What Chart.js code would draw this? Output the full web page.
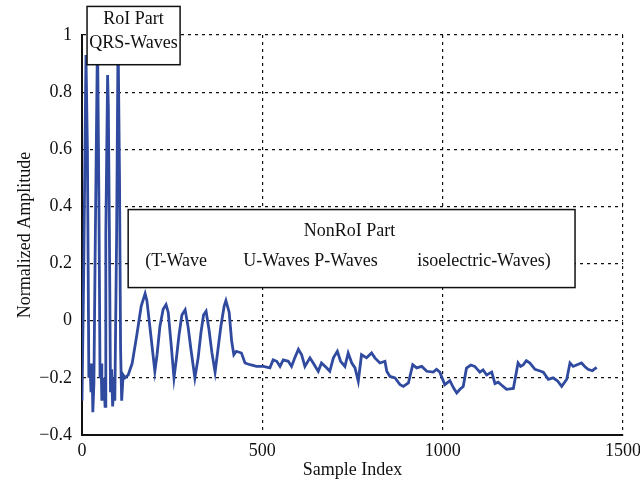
<!DOCTYPE html>
<html>
<head>
<meta charset="utf-8">
<script src="https://cdn.jsdelivr.net/npm/chart.js@4/dist/chart.umd.min.js"></script>
<style>
  html,body{margin:0;padding:0;background:#fff;}
  #wrap{width:640px;height:486px;position:relative;}
</style>
</head>
<body>
<div id="wrap"><canvas id="ecg" width="640" height="486"></canvas></div>
<script>
/* Normalized ECG amplitude vs sample index */

const sampleIdx = [
  0, 5, 11, 15, 19, 22, 25, 28, 30, 33, 37, 43, 47, 50, 53, 55, 60, 64, 66, 71, 73, 76, 79, 82, 85, 89, 91, 96, 100, 104, 107, 110, 114, 119,
  128, 139, 152, 164, 175, 180, 189, 197, 202, 208, 216, 225, 233, 239, 247, 255, 261, 269, 277, 286, 294, 302, 313, 322, 330, 337, 344, 352, 360, 369, 377, 385, 394, 399, 408,
  415, 421, 428, 442, 452, 466, 484, 503, 521, 530, 540, 549, 558, 572, 581, 590, 600, 609, 618, 632, 641, 655, 664, 678, 687, 697, 708, 717, 729, 738, 748, 757, 766, 775,
  789, 803, 812, 826, 840, 845, 854, 868, 882, 891, 905, 917, 928, 942, 956, 974, 983, 992, 1006, 1020, 1030, 1039, 1048, 1057, 1066, 1078, 1089, 1103, 1112, 1122, 1136,
  1145, 1154, 1163, 1177, 1196, 1209, 1216, 1223, 1232, 1242, 1256, 1268, 1279, 1293, 1306, 1318, 1330, 1344, 1353, 1362, 1371, 1385, 1394, 1403, 1415, 1427
];
const amplitude = [
  -0.28, 0.2, 0.93, 0.6, -0.2, -0.15, -0.25, -0.15, -0.32, -0.22, 0.3, 1.0, 0.4, -0.2, -0.15, -0.28, -0.2, -0.3, 0.3, 0.86, 0.75, 0.3, -0.25, -0.17, -0.3, -0.2, -0.28, 0.3, 1.0, 0.5, -0.1, -0.28, -0.19, -0.2,
  -0.19, -0.15, -0.05, 0.05, 0.095, 0.07, -0.03, -0.12, -0.177, -0.12, -0.02, 0.04, 0.056, 0.03, -0.08, -0.2, -0.14, -0.05, 0.02, 0.038, -0.02, -0.1, -0.2, -0.13, -0.04, 0.02, 0.033, -0.03, -0.11, -0.18, -0.1, -0.02, 0.05, 0.07, 0.03,
  -0.072, -0.119, -0.107, -0.113, -0.148, -0.154, -0.16, -0.16, -0.165, -0.137, -0.142, -0.16, -0.137, -0.142, -0.16, -0.13, -0.1, -0.119, -0.16, -0.13, -0.148, -0.177, -0.148, -0.165, -0.177, -0.13, -0.107, -0.142, -0.16, -0.113, -0.148, -0.165, -0.212, -0.119,
  -0.13, -0.113, -0.13, -0.148, -0.142, -0.177, -0.195, -0.2, -0.224, -0.23, -0.218, -0.154, -0.165, -0.16, -0.177, -0.18, -0.17, -0.18, -0.224, -0.21, -0.235, -0.253, -0.24, -0.23, -0.166, -0.155, -0.16, -0.18, -0.172, -0.19, -0.18,
  -0.22, -0.215, -0.225, -0.24, -0.237, -0.148, -0.16, -0.155, -0.14, -0.148, -0.17, -0.175, -0.18, -0.205, -0.2, -0.21, -0.23, -0.205, -0.148, -0.16, -0.155, -0.148, -0.16, -0.17, -0.175, -0.163
];

const xTicks = [0, 500, 1000, 1500];
const yTicks = [-0.4, -0.2, 0, 0.2, 0.4, 0.6, 0.8, 1];

// annotation boxes, in data units
const roiBox = {x0: 14, x1: 272, y0: 1.1, y1: 0.896, lines: ['RoI Part', 'QRS-Waves']};
const nonRoiBox = {x0: 128, x1: 1367, y0: 0.389, y1: 0.116};

const serif = '"Liberation Serif", "DejaVu Serif", serif';

const boxPlugin = {
  id: 'boxes',
  afterDatasetsDraw(chart){
    const ctx = chart.ctx, xs = chart.scales.x, ys = chart.scales.y;
    const rect = b => {
      const l = xs.getPixelForValue(b.x0), r = xs.getPixelForValue(b.x1);
      const t = ys.getPixelForValue(b.y0), bt = ys.getPixelForValue(b.y1);
      ctx.fillStyle = '#fff';
      ctx.fillRect(l, t, r-l, bt-t);
      ctx.strokeStyle = '#111';
      ctx.lineWidth = 1.5;
      ctx.strokeRect(l, t, r-l, bt-t);
      return {l, r, t, bt};
    };
    ctx.save();
    ctx.font = '18px ' + serif;
    ctx.textBaseline = 'middle';

    const a = rect(roiBox);
    ctx.fillStyle = '#111';
    ctx.textAlign = 'center';
    const cx = (a.l + a.r)/2;
    ctx.fillText(roiBox.lines[0], cx, a.t + 13);
    ctx.fillText(roiBox.lines[1], cx, a.t + 37);

    const b = rect(nonRoiBox);
    ctx.fillStyle = '#111';
    ctx.textAlign = 'center';
    ctx.fillText('NonRoI Part', (b.l + b.r)/2 - 2, b.t + 22);
    ctx.textAlign = 'left';
    ctx.fillText('(T-Wave', b.l + 17, b.t + 52);
    ctx.fillText('U-Waves P-Waves', b.l + 115, b.t + 52);
    ctx.fillText('isoelectric-Waves)', b.l + 289, b.t + 52);
    ctx.restore();
  }
};

const points = sampleIdx.map((x, i) => ({x, y: amplitude[i]}));

new Chart(document.getElementById('ecg'), {
  type: 'line',
  data: {
    datasets: [{
      data: points,
      borderColor: '#2f4a9e',
      borderWidth: 2.8,
      pointRadius: 0,
      tension: 0,
      fill: false
    }]
  },
  options: {
    responsive: false,
    animation: false,
    layout: {padding: {top: 35, right: 17, bottom: 0, left: 0}},
    plugins: {legend: {display: false}, tooltip: {enabled: false}},
    scales: {
      x: {
        type: 'linear', min: 0, max: 1500,
        afterBuildTicks: s => { s.ticks = xTicks.map(v => ({value: v})); },
        afterFit: s => { s.height = 51; s.paddingRight = 0; s.paddingLeft = 0; },
        ticks: {color: '#111', font: {family: serif, size: 18}, padding: 5, callback: v => String(v)},
        grid: {color: '#111', lineWidth: 1.2, drawTicks: false},
        border: {color: '#111', width: 2, dash: [3, 4]},
        title: {display: true, text: 'Sample Index', color: '#111', font: {family: serif, size: 18}, padding: {top: 0, bottom: 5}}
      },
      y: {
        min: -0.4, max: 1,
        afterBuildTicks: s => { s.ticks = yTicks.map(v => ({value: v})); },
        afterFit: s => { s.width = 82; s.paddingTop = 0; s.paddingBottom = 0; },
        ticks: {
          color: '#111', font: {family: serif, size: 18}, padding: 10,
          callback: v => v < 0 ? '\u2212' + Math.abs(v) : String(v)
        },
        grid: {color: '#111', lineWidth: 1.2, drawTicks: false},
        border: {color: '#111', width: 2, dash: [3, 4]},
        title: {display: true, text: 'Normalized Amplitude', color: '#111', font: {family: serif, size: 18}, padding: {top: 14, bottom: 0}}
      }
    }
  },
  plugins: [boxPlugin]
});
</script>
</body>
</html>
